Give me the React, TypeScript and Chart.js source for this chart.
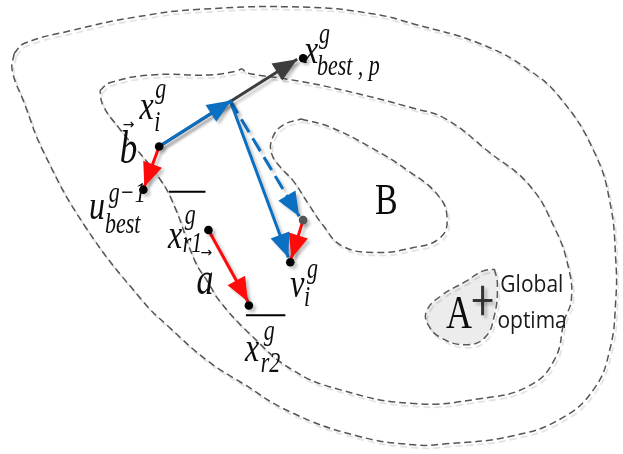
import React, { useEffect, useRef } from 'react';
import { Chart, registerables } from 'chart.js';
Chart.register(...registerables);

// ---- diagram data (diagram coordinates: x 0..623, y 0..454 downward) ----
const outerContour: number[][] = [[10,50],[20,40],[67,27],[133,13],[200,5],[308,3],[375,10],[415,20],[482,40],[532,67],[565,97],[598,150],[614,201],[620,260],[620,302],[614,352],[598,392],[565,422],[515,440],[448,448],[415,449],[358,440],[291,416],[241,386],[207,364],[167,329],[140,302],[83,228],[40,151],[20,100],[8,67],[10,50]];
const middleContour: number[][] = [[97,88],[107,80],[150,72],[208,72],[236,68],[241,66],[246,70],[291,77],[341,87],[415,106],[448,117],[492,151],[532,184],[558,228],[572,268],[575,301],[568,322],[558,362],[532,389],[482,402],[415,407],[341,393],[291,372],[248,335],[218,302],[207,284],[193,261],[173,207],[157,177],[117,127],[100,103],[97,88]];
const innerContour: number[][] = [[301,117],[330,125],[370,145],[410,170],[440,195],[449,218],[442,238],[415,248],[375,253],[342,246],[323,225],[308,203],[293,180],[280,166],[271,152],[272,136],[283,123],[301,117]];
const optimaRegion: number[][] = [[497,270],[500,285],[497,317],[487,340],[467,347],[443,340],[430,327],[428,313],[443,297],[467,283],[485,272],[497,270]];
const plusH: number[][] = [[475,302],[495,302]];
const plusV: number[][] = [[485,287],[485,317]];

const blackArrow: number[][] = [[157,145],[297,56]];
const blueArrow1: number[][] = [[157,145],[230,98]];
const blueArrow2: number[][] = [[229,98],[288,258]];
const blueDashed: number[][] = [[229,98],[299,216]];
const redArrow1: number[][] = [[157,145],[142,186]];
const redArrow2: number[][] = [[303,220],[291,259]];
const redArrow3: number[][] = [[207,230],[247,303]];

const blackDots: number[][] = [[157,145],[303,55],[141,189],[207,230],[248,307],[290,263]];
const grayDots: number[][] = [[303,220]];
const overbar1: number[][] = [[167,191],[204,191]];
const overbar2: number[][] = [[245,317],[285,317]];

// labels: text, x, baseline y, size, kind
const labelTexts: string[] = ['x','g','i','b','→','u','g−1','best','x','g','r1','→','a','x','g','r2','v','g','i','x','g','best , p','B','A','Global','optima'];
const labelX: number[] = [137,153,152,117,120,86,106,102,166,183,181,199,195,244,263,260,290,307,304,304,319,317,376,448,503,500];
const labelY: number[] = [117,96,129,162,127,219,202,233,248,224,252,258,295,364,342,375,298,279,308,60,39,72,214,330,293,330];
const labelSize: number[] = [32,22,22,35,14,32,22,22,32,22,22,14,34,32,22,22,32,22,22,32,22,22,34,36,21,21];
const labelKind: string[] = ['m','m','m','m','r','m','m','m','m','m','m','r','m','m','m','m','m','m','m','m','m','m','s','s','n','n'];

const xy = (pts: number[][]) => pts.map(([x, y]) => ({ x, y }));

const BLUE = '#0b6fc2';
const RED = '#ff0a0a';
const DARK = '#3d3d3d';

export default function App() {
  const ref = useRef<HTMLCanvasElement | null>(null);
  useEffect(() => {
    if (!ref.current) return;
    const contour = (pts: number[][], extra: any = {}) => ({
      type: 'line', data: xy(pts), borderColor: '#555', borderWidth: 1.5, borderDash: [7, 4],
      pointRadius: 0, tension: 0.45, fill: false, order: 6, fx: 'contour', ...extra,
    });
    const arrow = (pts: number[][], color: string, order: number, extra: any = {}) => ({
      type: 'line', data: xy(pts), borderColor: color, backgroundColor: color, borderWidth: 3,
      pointRadius: 0, tension: 0, fill: false, order, fx: 'shadow', arrowHead: true, ...extra,
    });
    const datasets: any[] = [
      { type: 'scatter', data: xy(blackDots), pointRadius: 4.3, backgroundColor: '#000', borderWidth: 0, order: 1, fx: 'shadow' },
      { type: 'scatter', data: xy(grayDots), pointRadius: 4.3, backgroundColor: '#555', borderWidth: 0, order: 1, fx: 'shadow' },
      arrow(redArrow1, RED, 2),
      arrow(redArrow2, RED, 2),
      arrow(redArrow3, RED, 2),
      arrow(blueArrow1, BLUE, 3),
      arrow(blueArrow2, BLUE, 3),
      arrow(blueDashed, BLUE, 3, { borderDash: [15, 7] }),
      arrow(blackArrow, DARK, 4),
      { type: 'line', data: xy(overbar1), borderColor: '#000', borderWidth: 2, pointRadius: 0, order: 4 },
      { type: 'line', data: xy(overbar2), borderColor: '#000', borderWidth: 2, pointRadius: 0, order: 4 },
      { type: 'line', data: xy(plusH), borderColor: '#333', borderWidth: 3, pointRadius: 0, order: 4, fx: 'shadow' },
      { type: 'line', data: xy(plusV), borderColor: '#333', borderWidth: 3, pointRadius: 0, order: 4, fx: 'shadow' },
      contour(optimaRegion, { fill: 'shape', backgroundColor: '#ececec', borderColor: '#5a5a5a', order: 5 }),
      contour(innerContour),
      contour(middleContour),
      contour(outerContour),
    ];

    const fxPlugin = {
      id: 'fx',
      beforeDatasetDraw(chart: any, args: any) {
        const ds = chart.data.datasets[args.index];
        const ctx = chart.ctx;
        ctx.save();
        if (ds.fx === 'contour') {
          ctx.shadowColor = 'rgba(0,0,0,0.14)';
          ctx.shadowOffsetX = 2; ctx.shadowOffsetY = 3; ctx.shadowBlur = 1;
        } else if (ds.fx === 'shadow') {
          ctx.shadowColor = 'rgba(0,0,0,0.22)';
          ctx.shadowOffsetX = 3; ctx.shadowOffsetY = 3; ctx.shadowBlur = 3;
        }
      },
      afterDatasetDraw(chart: any, args: any) {
        const ds = chart.data.datasets[args.index];
        const ctx = chart.ctx;
        if (ds.arrowHead) {
          const pts = args.meta.data;
          const a = pts[pts.length - 2], b = pts[pts.length - 1];
          const ang = Math.atan2(b.y - a.y, b.x - a.x);
          const L = 24, W = 10;
          ctx.fillStyle = ds.borderColor;
          ctx.beginPath();
          ctx.moveTo(b.x, b.y);
          ctx.lineTo(b.x - L * Math.cos(ang) + W * Math.sin(ang), b.y - L * Math.sin(ang) - W * Math.cos(ang));
          ctx.lineTo(b.x - L * Math.cos(ang) - W * Math.sin(ang), b.y - L * Math.sin(ang) + W * Math.cos(ang));
          ctx.closePath();
          ctx.fill();
        }
        ctx.restore();
      },
      afterDraw(chart: any) {
        const ctx = chart.ctx;
        const sx = chart.scales.x, sy = chart.scales.y;
        ctx.save();
        ctx.textBaseline = 'alphabetic';
        ctx.textAlign = 'left';
        labelTexts.forEach((t, i) => {
          const k = labelKind[i];
          const px = sx.getPixelForValue(labelX[i]);
          const py = sy.getPixelForValue(labelY[i]);
          let font = '', scaleY = 1.35;
          ctx.fillStyle = '#0d0d0d';
          if (k === 'm') font = `italic ${labelSize[i]}px "Liberation Serif"`;
          else if (k === 'r') { font = `${labelSize[i]}px "DejaVu Sans"`; scaleY = 1; }
          else if (k === 's') { font = `${labelSize[i]}px "Liberation Serif"`; scaleY = 1.3; }
          else { font = `${labelSize[i]}px "Open Sans"`; scaleY = 1.15; ctx.fillStyle = '#1a1a1a'; }
          ctx.font = font;
          ctx.save();
          ctx.translate(px, py);
          ctx.scale(1, scaleY);
          ctx.fillText(t, 0, 0);
          ctx.restore();
        });
        ctx.restore();
      },
    };

    const chart = new Chart(ref.current, {
      type: 'scatter',
      data: { datasets },
      options: {
        animation: false,
        responsive: false,
        layout: { padding: 0 },
        plugins: { legend: { display: false }, tooltip: { enabled: false } },
        scales: {
          x: { type: 'linear', min: 0, max: 623, display: false },
          y: { type: 'linear', min: 0, max: 454, reverse: true, display: false },
        },
      },
      plugins: [fxPlugin],
    } as any);
    return () => chart.destroy();
  }, []);
  return (
    <div style={{ position: 'fixed', left: 0, top: 0, width: 623, height: 454, background: '#fff' }}>
      <canvas ref={ref} width={623} height={454} style={{ width: 623, height: 454, display: 'block' }} />
    </div>
  );
}
